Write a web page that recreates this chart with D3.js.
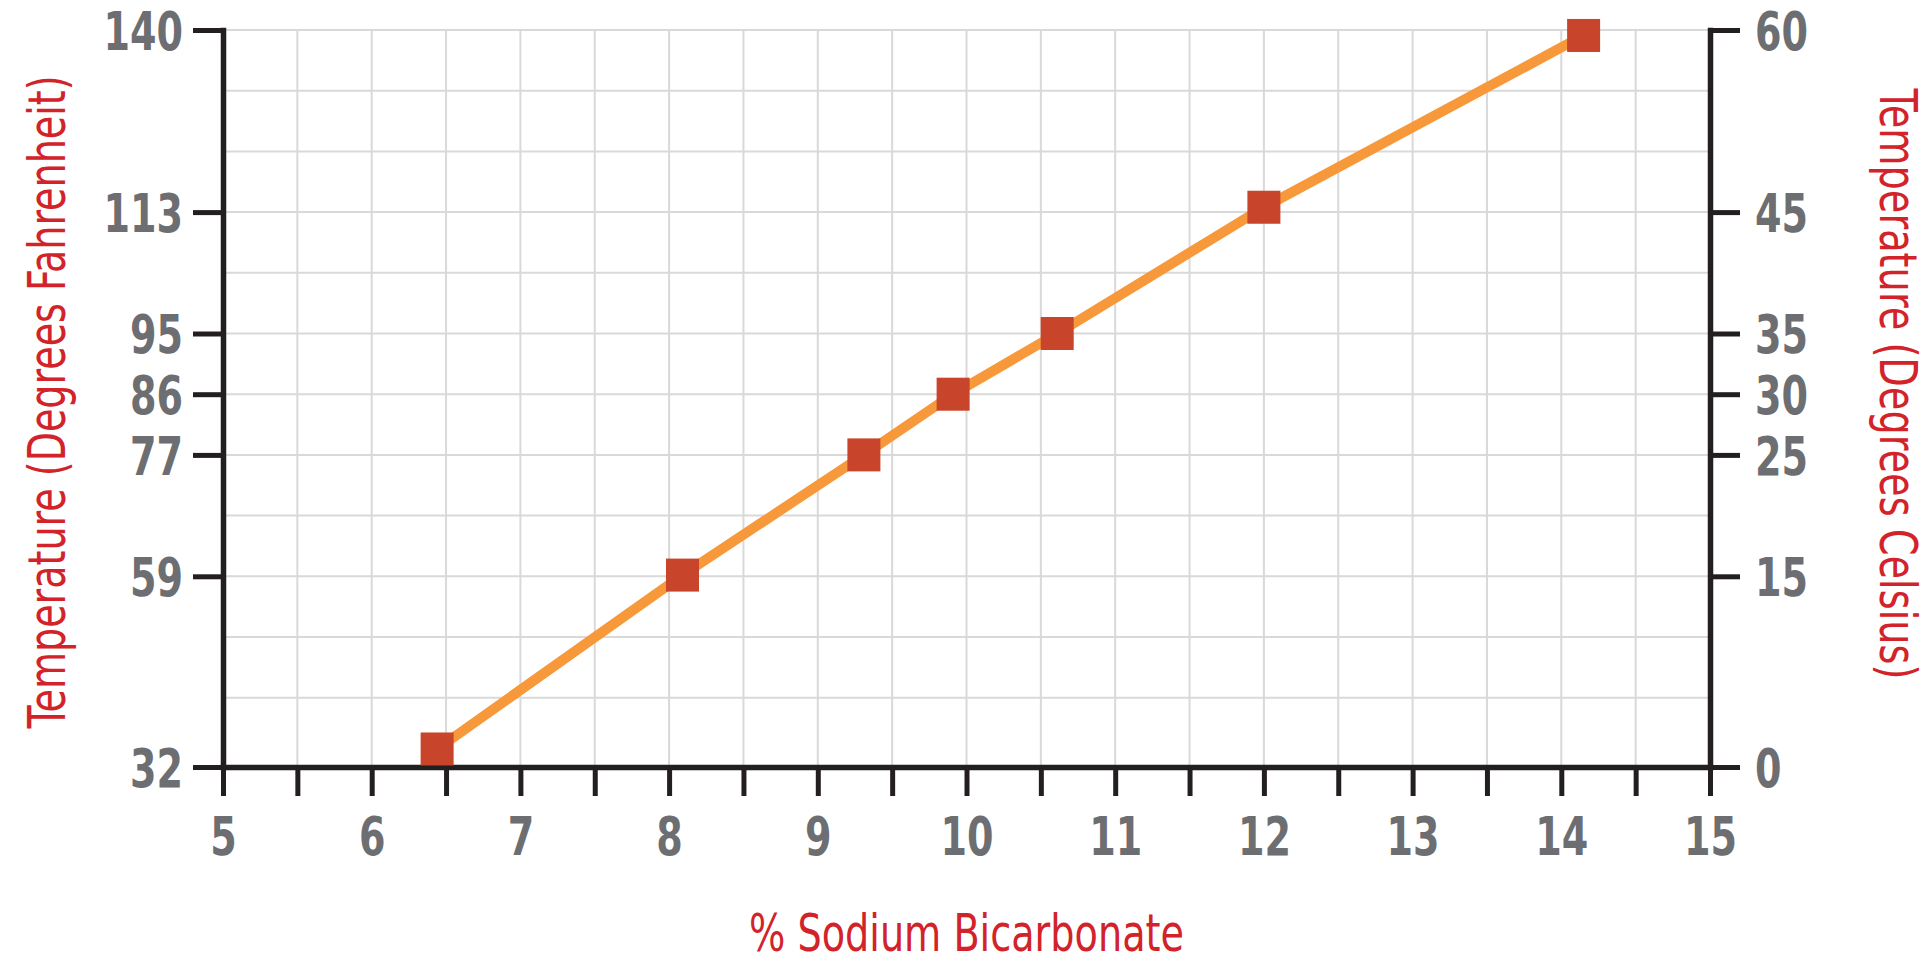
<!DOCTYPE html>
<html>
<head>
<meta charset="utf-8">
<script src="https://cdn.jsdelivr.net/npm/d3@7"></script>
<style>
  body { margin: 0; background: #fff; }
  svg { display: block; }
  .tick text { font-family: "Liberation Sans Narrow", "DejaVu Sans Condensed", sans-serif; font-weight: bold; fill: #6d6e71; }
  .title { font-family: "Liberation Sans Narrow", "DejaVu Sans Condensed", sans-serif; fill: #d2232a; }
</style>
</head>
<body>
<script>
// data
const pctSodium = [6.44, 8.09, 9.31, 9.91, 10.61, 12.0, 14.15];
const tempC     = [1.3, 15.1, 25.0, 30.0, 35.0, 45.4, 59.55];

// axis ticks
const celsiusTicks    = [0, 15, 25, 30, 35, 45, 60];
const fahrenheitTicks = [32, 59, 77, 86, 95, 113, 140];
const xMajor = [5, 6, 7, 8, 9, 10, 11, 12, 13, 14, 15];
const xAllTicks = [5, 5.5, 6, 6.5, 7, 7.5, 8, 8.5, 9, 9.5, 10, 10.5, 11, 11.5, 12, 12.5, 13, 13.5, 14, 14.5, 15];
const gridC = [5, 10, 15, 20, 25, 30, 35, 40, 45, 50, 55, 60];
const gridX = [5.5, 6, 6.5, 7, 7.5, 8, 8.5, 9, 9.5, 10, 10.5, 11, 11.5, 12, 12.5, 13, 13.5, 14, 14.5];

const W = 1930, H = 962;
const plotL = 223, plotR = 1710, plotT = 30, plotB = 767;

const svg = d3.select('body').append('svg')
    .attr('width', W)
    .attr('height', H);

const x = d3.scaleLinear().domain([5, 15]).range([plotL, plotR]);
// the bottom band of the original is a bit taller than the others
const y = d3.scaleLinear().domain([0, 5, 60]).range([plotB, 697.7, plotT]);

// grid
svg.append('g').selectAll('line')
    .data(gridC)
    .enter().append('line')
    .attr('x1', plotL).attr('x2', plotR)
    .attr('y1', d => y(d)).attr('y2', d => y(d))
    .attr('stroke', '#d9d9d9').attr('stroke-width', 2);

svg.append('g').selectAll('line')
    .data(gridX)
    .enter().append('line')
    .attr('x1', d => x(d)).attr('x2', d => x(d))
    .attr('y1', plotT).attr('y2', plotB)
    .attr('stroke', '#d9d9d9').attr('stroke-width', 2);

// axes
const fmtF = d => fahrenheitTicks[celsiusTicks.indexOf(d)];

const gLeft = svg.append('g')
    .attr('transform', 'translate(' + plotL + ',0)')
    .call(d3.axisLeft(y).tickValues(celsiusTicks).tickFormat(fmtF)
        .tickSizeInner(30).tickSizeOuter(0).tickPadding(10));

const gRight = svg.append('g')
    .attr('transform', 'translate(' + plotR + ',0)')
    .call(d3.axisRight(y).tickValues(celsiusTicks).tickFormat(d => d)
        .tickSizeInner(30).tickSizeOuter(0).tickPadding(15));

const gBottom = svg.append('g')
    .attr('transform', 'translate(0,' + plotB + ')')
    .call(d3.axisBottom(x).tickValues(xAllTicks)
        .tickFormat(d => xMajor.includes(d) ? d : '')
        .tickSizeInner(29).tickSizeOuter(0).tickPadding(18));

// the original digits are a narrow heavy face, about 26px per digit
[gLeft, gRight, gBottom].forEach(g => {
    g.select('.domain').attr('stroke', '#231f20').attr('stroke-width', 5.5).attr('stroke-linecap', 'square');
    g.selectAll('.tick line').attr('stroke', '#231f20').attr('stroke-width', 5);
    g.selectAll('.tick text')
        .attr('font-size', 54)
        .filter(function() { return this.textContent.length > 0; })
        .attr('textLength', function() { return 26.5 * this.textContent.length; })
        .attr('lengthAdjust', 'spacingAndGlyphs');
});
gLeft.selectAll('.tick text').attr('dy', '0.36em');
gRight.selectAll('.tick text').attr('dy', '0.36em');
gBottom.selectAll('.tick text').attr('dy', '0.75em');

// line + markers
const pts = pctSodium.map((p, i) => [p, tempC[i]]);

svg.append('path')
    .datum(pts)
    .attr('fill', 'none')
    .attr('stroke', '#f7993b')
    .attr('stroke-width', 10)
    .attr('d', d3.line().x(d => x(d[0])).y(d => y(d[1])));

const ms = 33;
svg.append('g').selectAll('rect')
    .data(pts)
    .enter().append('rect')
    .attr('x', d => x(d[0]) - ms / 2)
    .attr('y', d => y(d[1]) - ms / 2)
    .attr('width', ms)
    .attr('height', ms)
    .attr('fill', '#c8442a');

// titles
svg.append('text')
    .attr('class', 'title')
    .attr('transform', 'translate(65,402) rotate(-90)')
    .attr('text-anchor', 'middle')
    .attr('font-size', 51)
    .attr('textLength', 653)
    .attr('lengthAdjust', 'spacingAndGlyphs')
    .text('Temperature (Degrees Fahrenheit)');

svg.append('text')
    .attr('class', 'title')
    .attr('transform', 'translate(1880,384) rotate(90)')
    .attr('text-anchor', 'middle')
    .attr('font-size', 51)
    .attr('textLength', 591)
    .attr('lengthAdjust', 'spacingAndGlyphs')
    .text('Temperature (Degrees Celsius)');

svg.append('text')
    .attr('class', 'title')
    .attr('x', (plotL + plotR) / 2)
    .attr('y', 951)
    .attr('text-anchor', 'middle')
    .attr('font-size', 51)
    .attr('textLength', 435)
    .attr('lengthAdjust', 'spacingAndGlyphs')
    .text('% Sodium Bicarbonate');
</script>
</body>
</html>
